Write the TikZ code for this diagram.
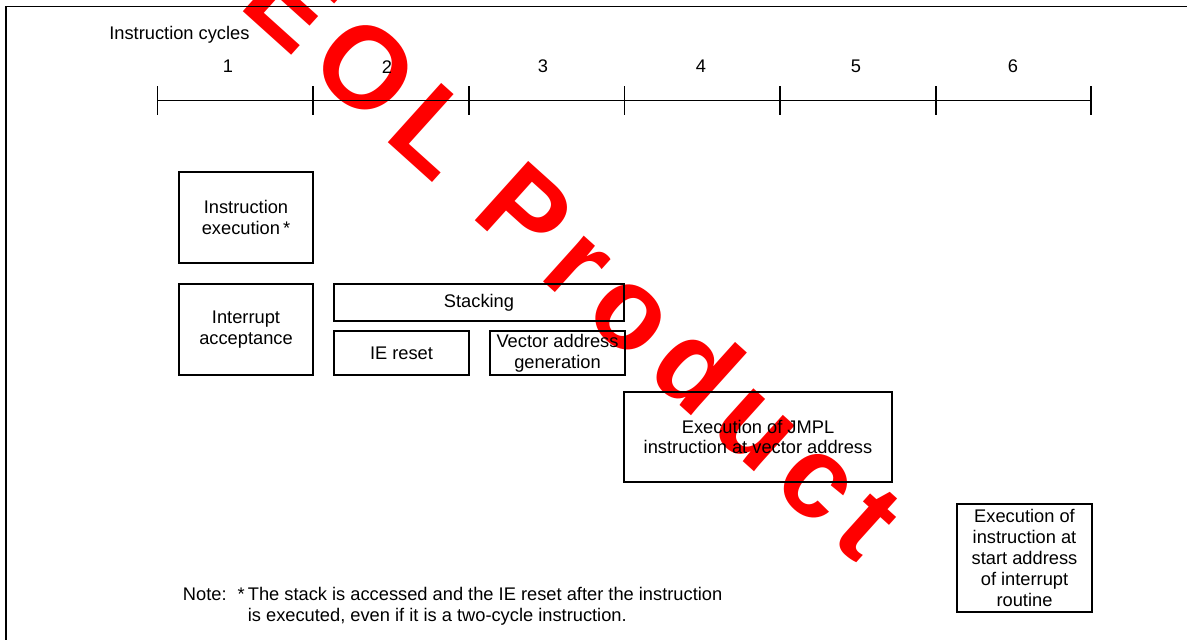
\documentclass[tikz,border=0pt]{standalone}
\usepackage{fontspec}
\setmainfont{Liberation Sans}
\newfontfamily\wmfont[LetterSpace=12]{Liberation Sans}
\usetikzlibrary{positioning}

\begin{document}
\begin{tikzpicture}[cyclebox/.style={rectangle, draw=black, line width=0.6pt, inner sep=0pt, align=center, font=\fontsize{10.4pt}{11.9pt}\selectfont},
plaintext/.style={inner sep=0pt, font=\fontsize{10.4pt}{11.9pt}\selectfont},
axisline/.style={draw=black, line width=0.6pt},
frameline/.style={draw=black, line width=0.9pt},
watermark/.style={text=red, rotate=-42, inner sep=0pt, font=\wmfont\fontsize{66pt}{66pt}\selectfont\bfseries}]
\useasboundingbox (0, 0) rectangle (23.74, -12.8);

\node[watermark](eol) at (11.5, -5.1) {EOL Product};

\draw[frameline] (23.74, -0.13) -- (0.12, -0.13) -- (0.12, -12.8);

\node[plaintext, anchor=west](cyclesLabel) at (2.18, -0.70) {Instruction cycles};

\coordinate (c0) at (3.154, -2.014);
\coordinate (c1) at (6.26, -2.014);
\coordinate (c2) at (9.38, -2.014);
\coordinate (c3) at (12.49, -2.014);
\coordinate (c4) at (15.6, -2.014);
\coordinate (c5) at (18.72, -2.014);
\coordinate (c6) at (21.82, -2.014);

\draw[axisline] (c0) -- (c6);
\draw[axisline] ([yshift=0.29cm]c0) -- ([yshift=-0.29cm]c0);
\draw[axisline] ([yshift=0.29cm]c1) -- ([yshift=-0.29cm]c1);
\draw[axisline] ([yshift=0.29cm]c2) -- ([yshift=-0.29cm]c2);
\draw[axisline] ([yshift=0.29cm]c3) -- ([yshift=-0.29cm]c3);
\draw[axisline] ([yshift=0.29cm]c4) -- ([yshift=-0.29cm]c4);
\draw[axisline] ([yshift=0.29cm]c5) -- ([yshift=-0.29cm]c5);
\draw[axisline] ([yshift=0.29cm]c6) -- ([yshift=-0.29cm]c6);

\node[plaintext](cycleOne) at (4.56, -1.334) {1};
\node[plaintext](cycleTwo) at (7.74, -1.334) {2};
\node[plaintext](cycleThree) at (10.86, -1.334) {3};
\node[plaintext](cycleFour) at (14.02, -1.334) {4};
\node[plaintext](cycleFive) at (17.12, -1.334) {5};
\node[plaintext](cycleSix) at (20.26, -1.334) {6};

\node[cyclebox, minimum width=2.68cm, minimum height=1.82cm](instrExec) at (4.92, -4.35) {Instruction\\execution\,*};
\node[cyclebox, minimum width=2.68cm, minimum height=1.82cm](intAccept) at (4.92, -6.59) {Interrupt\\acceptance};
\node[cyclebox, minimum width=5.8cm, minimum height=0.74cm](stacking) at (9.58, -6.05) {Stacking};
\node[cyclebox, minimum width=2.7cm, minimum height=0.88cm](ieReset) at (8.03, -7.06) {IE reset};
\node[cyclebox, minimum width=2.7cm, minimum height=0.88cm](vecAddr) at (11.15, -7.06) {Vector address\\generation};
\node[cyclebox, minimum width=5.36cm, minimum height=1.8cm](jmplExec) at (15.16, -8.74) {Execution of JMPL\\instruction at vector address};
\node[cyclebox, minimum width=2.7cm, minimum height=2.16cm](startAddr) at (20.49, -11.16) {Execution of\\instruction at\\start address\\of interrupt\\routine};

\node[plaintext, anchor=west, align=left](noteText) at (4.95, -12.13) {\llap{*\,}The stack is accessed and the IE reset after the instruction\\is executed, even if it is a two-cycle instruction.};
\node[plaintext, anchor=north east](noteLabel) at ([xshift=-0.41cm]noteText.north west) {Note:};

\end{tikzpicture}
\end{document}
